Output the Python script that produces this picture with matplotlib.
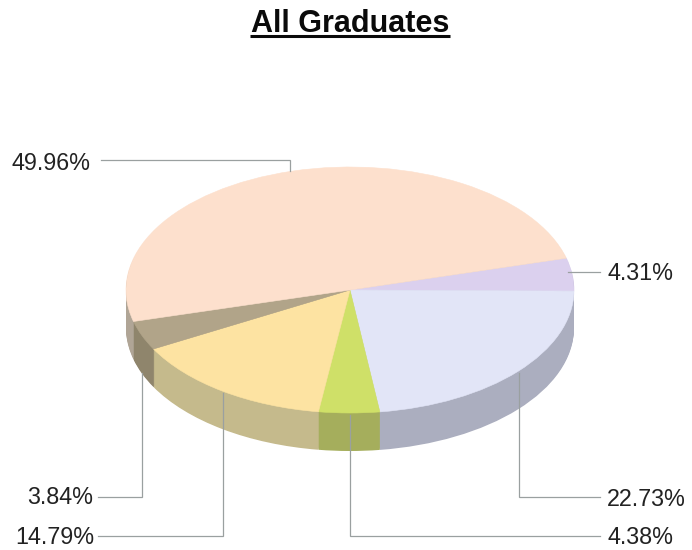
import numpy as np
import matplotlib
matplotlib.use('Agg')
import matplotlib.pyplot as plt

plt.rcParams['font.family'] = ['Liberation Sans', 'DejaVu Sans']

# slices, clockwise from the lavender one
shares = [4.31, 22.73, 4.38, 14.79, 3.84, 49.96]
share_labels = ['4.31%', '22.73%', '4.38%', '14.79%', '3.84%', '49.96%']

top_colors = ['#dbd0ee', '#e2e5f7', '#cfe068', '#fde3a2', '#b1a489', '#fde0cd']
side_colors = ['#a6a5b8', '#abaebf', '#a5ae5c', '#c5ba8c', '#8f856c', '#b0a596']

W, H = 692, 550
CX, CY = 350, 290
RX, RY = 224, 123
DEPTH = 38
START = 15

fig = plt.figure(figsize=(W / 100, H / 100), dpi=100, facecolor='white')

# pie axes: unit circle squashed into the ellipse
ax = fig.add_axes([0, 0, 1, 1])
for d in np.arange(DEPTH, 0, -1):
    ax.pie(shares, colors=side_colors, startangle=START, counterclock=False,
           center=(0, -d / RY), radius=1, wedgeprops={'linewidth': 0})
wedges, _ = ax.pie(shares, colors=top_colors, startangle=START, counterclock=False,
                   center=(0, 0), radius=1, wedgeprops={'linewidth': 0})
for w in wedges:
    w.set_edgecolor(w.get_facecolor())
    w.set_linewidth(0.4)
ax.set_aspect('auto')
ax.set_xlim(-CX / RX, (W - CX) / RX)
ax.set_ylim(-(H - CY) / RY, CY / RY)
ax.axis('off')

# overlay in pixel coords for title and leaders
over = fig.add_axes([0, 0, 1, 1], facecolor='none')
over.set_xlim(0, W)
over.set_ylim(H, 0)
over.axis('off')

over.text(350, 32, 'All Graduates', fontsize=22, fontweight='bold', ha='center',
          va='baseline', color='#0a0a0a')
over.plot([250, 450], [36, 36], color='#0a0a0a', lw=2.2, solid_capstyle='butt')

leaders = [
    [(568, 272), (600, 272)],
    [(519, 373), (519, 497), (600, 497)],
    [(350, 415), (350, 536), (600, 536)],
    [(223, 393), (223, 536), (98, 536)],
    [(142, 373), (142, 497), (98, 497)],
    [(101, 160), (290, 160), (290, 171)],
]
for pts in leaders:
    xs, ys = zip(*pts)
    over.plot(xs, ys, color='#9aa0a0', lw=0.9, solid_joinstyle='miter')

label_pos = [(607, 274, 'left'), (607, 499, 'left'), (607, 537, 'left'),
             (94, 537, 'right'), (93, 498, 'right'), (91, 163, 'right')]
for txt, (x, y, ha) in zip(share_labels, label_pos):
    over.text(x, y, txt, fontsize=16.8, ha=ha, va='center', color='#222222')

fig.savefig('out.png', dpi=100)
